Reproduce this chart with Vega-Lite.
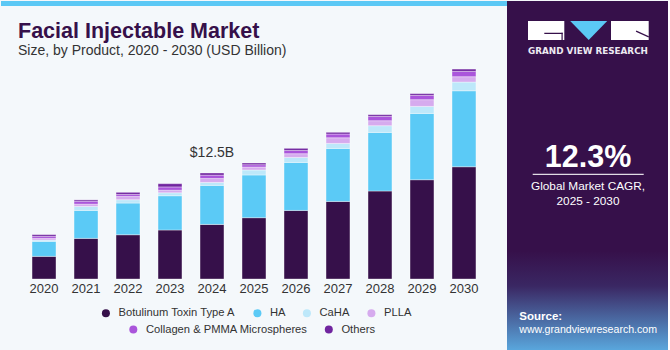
{
  "$schema": "https://vega.github.io/schema/vega-lite/v6.json",
  "background": "#F4F8FB",
  "padding": 0,
  "spacing": 0,
  "config": {"view": {"stroke": null}, "font": "Liberation Sans"},
  "datasets": {
    "market": [
      {"year": "2020", "product": "Botulinum Toxin Type A", "value": 2.67},
      {"year": "2020", "product": "HA", "value": 1.77},
      {"year": "2020", "product": "CaHA", "value": 0.15},
      {"year": "2020", "product": "PLLA", "value": 0.20},
      {"year": "2020", "product": "Collagen & PMMA Microspheres", "value": 0.24},
      {"year": "2020", "product": "Others", "value": 0.20},
      {"year": "2021", "product": "Botulinum Toxin Type A", "value": 4.79},
      {"year": "2021", "product": "HA", "value": 3.30},
      {"year": "2021", "product": "CaHA", "value": 0.47},
      {"year": "2021", "product": "PLLA", "value": 0.27},
      {"year": "2021", "product": "Collagen & PMMA Microspheres", "value": 0.35},
      {"year": "2021", "product": "Others", "value": 0.15},
      {"year": "2022", "product": "Botulinum Toxin Type A", "value": 5.22},
      {"year": "2022", "product": "HA", "value": 3.74},
      {"year": "2022", "product": "CaHA", "value": 0.39},
      {"year": "2022", "product": "PLLA", "value": 0.39},
      {"year": "2022", "product": "Collagen & PMMA Microspheres", "value": 0.24},
      {"year": "2022", "product": "Others", "value": 0.24},
      {"year": "2023", "product": "Botulinum Toxin Type A", "value": 5.78},
      {"year": "2023", "product": "HA", "value": 4.04},
      {"year": "2023", "product": "CaHA", "value": 0.35},
      {"year": "2023", "product": "PLLA", "value": 0.30},
      {"year": "2023", "product": "Collagen & PMMA Microspheres", "value": 0.39},
      {"year": "2023", "product": "Others", "value": 0.38},
      {"year": "2024", "product": "Botulinum Toxin Type A", "value": 6.44},
      {"year": "2024", "product": "HA", "value": 4.60},
      {"year": "2024", "product": "CaHA", "value": 0.35},
      {"year": "2024", "product": "PLLA", "value": 0.47},
      {"year": "2024", "product": "Collagen & PMMA Microspheres", "value": 0.39},
      {"year": "2024", "product": "Others", "value": 0.25},
      {"year": "2025", "product": "Botulinum Toxin Type A", "value": 7.23},
      {"year": "2025", "product": "HA", "value": 5.04},
      {"year": "2025", "product": "CaHA", "value": 0.59},
      {"year": "2025", "product": "PLLA", "value": 0.35},
      {"year": "2025", "product": "Collagen & PMMA Microspheres", "value": 0.27},
      {"year": "2025", "product": "Others", "value": 0.20},
      {"year": "2026", "product": "Botulinum Toxin Type A", "value": 8.09},
      {"year": "2026", "product": "HA", "value": 5.66},
      {"year": "2026", "product": "CaHA", "value": 0.59},
      {"year": "2026", "product": "PLLA", "value": 0.44},
      {"year": "2026", "product": "Collagen & PMMA Microspheres", "value": 0.39},
      {"year": "2026", "product": "Others", "value": 0.24},
      {"year": "2027", "product": "Botulinum Toxin Type A", "value": 9.15},
      {"year": "2027", "product": "HA", "value": 6.25},
      {"year": "2027", "product": "CaHA", "value": 0.59},
      {"year": "2027", "product": "PLLA", "value": 0.67},
      {"year": "2027", "product": "Collagen & PMMA Microspheres", "value": 0.44},
      {"year": "2027", "product": "Others", "value": 0.20},
      {"year": "2028", "product": "Botulinum Toxin Type A", "value": 10.38},
      {"year": "2028", "product": "HA", "value": 6.91},
      {"year": "2028", "product": "CaHA", "value": 0.79},
      {"year": "2028", "product": "PLLA", "value": 0.59},
      {"year": "2028", "product": "Collagen & PMMA Microspheres", "value": 0.51},
      {"year": "2028", "product": "Others", "value": 0.20},
      {"year": "2029", "product": "Botulinum Toxin Type A", "value": 11.71},
      {"year": "2029", "product": "HA", "value": 7.82},
      {"year": "2029", "product": "CaHA", "value": 0.83},
      {"year": "2029", "product": "PLLA", "value": 0.79},
      {"year": "2029", "product": "Collagen & PMMA Microspheres", "value": 0.51},
      {"year": "2029", "product": "Others", "value": 0.20},
      {"year": "2030", "product": "Botulinum Toxin Type A", "value": 13.24},
      {"year": "2030", "product": "HA", "value": 8.96},
      {"year": "2030", "product": "CaHA", "value": 1.03},
      {"year": "2030", "product": "PLLA", "value": 0.63},
      {"year": "2030", "product": "Collagen & PMMA Microspheres", "value": 0.63},
      {"year": "2030", "product": "Others", "value": 0.27}
    ]
  },
  "hconcat": [
    {
      "spacing": 0,
      "vconcat": [
        {
          "width": 506,
          "height": 5,
          "view": {"fill": "#5BC8F5"},
          "data": {"values": [{}]},
          "mark": {"type": "rule", "opacity": 0},
          "encoding": {}
        },
        {
          "width": 506,
          "height": 273,
          "data": {"name": "market"},
          "title": {
            "text": "Facial Injectable Market",
            "subtitle": "Size, by Product, 2020 - 2030 (USD Billion)",
            "anchor": "start",
            "offset": -52,
            "dx": 17,
            "font": "Liberation Sans",
            "fontSize": 21.5,
            "fontWeight": "bold",
            "color": "#36104A",
            "subtitleFont": "Liberation Sans",
            "subtitleFontSize": 14,
            "subtitleColor": "#333333",
            "subtitlePadding": 2
          },
          "encoding": {
            "x": {
              "field": "year",
              "type": "ordinal",
              "scale": {"paddingInner": 0.43, "paddingOuter": 0.739},
              "axis": {
                "title": null,
                "labelAngle": 0,
                "domain": false,
                "ticks": false,
                "labelPadding": 3,
                "labelFontSize": 13,
                "labelFont": "Liberation Sans",
                "labelColor": "#333333"
              }
            }
          },
          "layer": [
            {
              "transform": [
                {"calculate": "indexof(['Botulinum Toxin Type A', 'HA', 'CaHA', 'PLLA', 'Collagen & PMMA Microspheres', 'Others'], datum.product)", "as": "stackRank"}
              ],
              "mark": {"type": "bar", "stroke": "#ffffff", "strokeWidth": 0.8, "strokeOpacity": 0.45},
              "encoding": {
                "y": {
                  "field": "value",
                  "type": "quantitative",
                  "stack": "zero",
                  "scale": {"domain": [0, 32.2], "nice": false, "zero": true},
                  "axis": null
                },
                "order": {"field": "stackRank", "type": "quantitative", "sort": "ascending"},
                "color": {
                  "field": "product",
                  "type": "nominal",
                  "scale": {
                    "domain": ["Botulinum Toxin Type A", "HA", "CaHA", "PLLA", "Collagen & PMMA Microspheres", "Others"],
                    "range": ["#36104A", "#5BCAF6", "#BDE8FA", "#D6ABEE", "#AA55DB", "#70259F"]
                  },
                  "legend": {
                    "values": ["Botulinum Toxin Type A", "HA", "CaHA", "PLLA"],
                    "orient": "none",
                    "legendX": 99.3,
                    "legendY": 306.5,
                    "direction": "horizontal",
                    "columns": 4,
                    "title": null,
                    "padding": 0,
                    "symbolType": "circle",
                    "symbolSize": 64,
                    "symbolStrokeWidth": 0,
                    "labelFont": "Liberation Sans",
                    "labelFontSize": 11.2,
                    "labelLimit": 300,
                    "labelOffset": 7,
                    "columnPadding": 15.5,
                    "labelColor": "#333333"
                  }
                }
              }
            },
            {
              "transform": [
                {"filter": "datum.product == 'Collagen & PMMA Microspheres' || datum.product == 'Others'"},
                {"calculate": "datum.product", "as": "productGroup2"}
              ],
              "mark": {"type": "point", "opacity": 0, "filled": true},
              "encoding": {
                "y": {"field": "value", "type": "quantitative"},
                "fill": {
                  "field": "productGroup2",
                  "type": "nominal",
                  "scale": {
                    "domain": ["Collagen & PMMA Microspheres", "Others"],
                    "range": ["#AA55DB", "#70259F"]
                  },
                  "legend": {
                    "orient": "none",
                    "legendX": 126.7,
                    "legendY": 322.8,
                    "direction": "horizontal",
                    "columns": 2,
                    "title": null,
                    "padding": 0,
                    "symbolType": "circle",
                    "symbolSize": 64,
                    "symbolOpacity": 1,
                    "symbolStrokeWidth": 0,
                    "labelFont": "Liberation Sans",
                    "labelFontSize": 11.2,
                    "labelLimit": 300,
                    "labelOffset": 7,
                    "columnPadding": 15.5,
                    "labelColor": "#333333"
                  }
                }
              }
            },
            {
              "transform": [
                {"filter": "datum.year == '2024'"},
                {"aggregate": [{"op": "sum", "field": "value", "as": "total"}], "groupby": ["year"]}
              ],
              "mark": {"type": "text", "text": "$12.5B", "dy": -15.6, "baseline": "alphabetic", "align": "center", "fontSize": 14, "color": "#333333", "font": "Liberation Sans"},
              "encoding": {"y": {"field": "total", "type": "quantitative"}}
            }
          ]
        }
      ]
    },
    {
      "width": 161,
      "height": 350,
      "view": {"fill": "#36104A"},
      "data": {"values": [{}]},
      "layer": [
        {
          "mark": {
            "type": "rect", "x": 0, "x2": 161, "y": 250, "y2": 350,
            "fill": {"gradient": "linear", "x1": 0, "y1": 0, "x2": 0, "y2": 1,
              "stops": [{"offset": 0, "color": "#36104A"}, {"offset": 0.35, "color": "#3a2763"}, {"offset": 1, "color": "#5aa8de"}]}
          },
          "encoding": {}
        },
        {"mark": {"type": "rect", "x": 21, "x2": 57.3, "y": 20, "y2": 39, "color": "#ffffff"}, "encoding": {}},
        {"mark": {"type": "rect", "x": 104, "x2": 141.7, "y": 20, "y2": 39, "color": "#ffffff"}, "encoding": {}},
        {"mark": {"type": "rect", "x": 37.3, "x2": 55.7, "y": 31.7, "y2": 32.9, "color": "#36104A"}, "encoding": {}},
        {"mark": {"type": "rect", "x": 54.5, "x2": 55.7, "y": 31.7, "y2": 39, "color": "#36104A"}, "encoding": {}},
        {"mark": {"type": "point", "x": 81.7, "y": 29.5, "shape": "M -1 -0.52 L 1 -0.52 L 0 0.52 Z", "size": 1369, "filled": true, "color": "#5BC8F5", "opacity": 1}, "encoding": {}},
        {"mark": {"type": "point", "x": 135.4, "y": 33, "shape": "M -1 -0.45 L 1 0.45", "size": 160, "filled": false, "stroke": "#36104A", "strokeWidth": 1.2, "opacity": 1}, "encoding": {}},
        {"mark": {"type": "text", "x": 81, "y": 53.3, "text": "GRAND VIEW RESEARCH", "align": "center", "baseline": "alphabetic", "font": "DejaVu Sans", "fontWeight": "bold", "fontSize": 8.8, "color": "#EDEAF2"}, "encoding": {}},
        {"mark": {"type": "text", "x": 81, "y": 165.7, "text": "12.3%", "align": "center", "baseline": "alphabetic", "font": "Liberation Sans", "fontWeight": "bold", "fontSize": 30.5, "color": "#ffffff"}, "encoding": {}},
        {"mark": {"type": "rect", "x": 25.7, "x2": 136.7, "y": 172.7, "y2": 173.9, "color": "#ffffff", "opacity": 0.85}, "encoding": {}},
        {"mark": {"type": "text", "x": 81, "y": 189.3, "text": ["Global Market CAGR,", "2025 - 2030"], "lineHeight": 14.7, "align": "center", "baseline": "alphabetic", "font": "Liberation Sans", "fontSize": 11.8, "color": "#ffffff"}, "encoding": {}},
        {"mark": {"type": "text", "x": 12.3, "y": 319, "text": "Source:", "align": "left", "baseline": "alphabetic", "font": "Liberation Sans", "fontWeight": "bold", "fontSize": 11.5, "color": "#ffffff"}, "encoding": {}},
        {"mark": {"type": "text", "x": 12.3, "y": 332.3, "text": "www.grandviewresearch.com", "align": "left", "baseline": "alphabetic", "font": "Liberation Sans", "fontSize": 10.6, "color": "#ffffff"}, "encoding": {}}
      ]
    }
  ]
}
